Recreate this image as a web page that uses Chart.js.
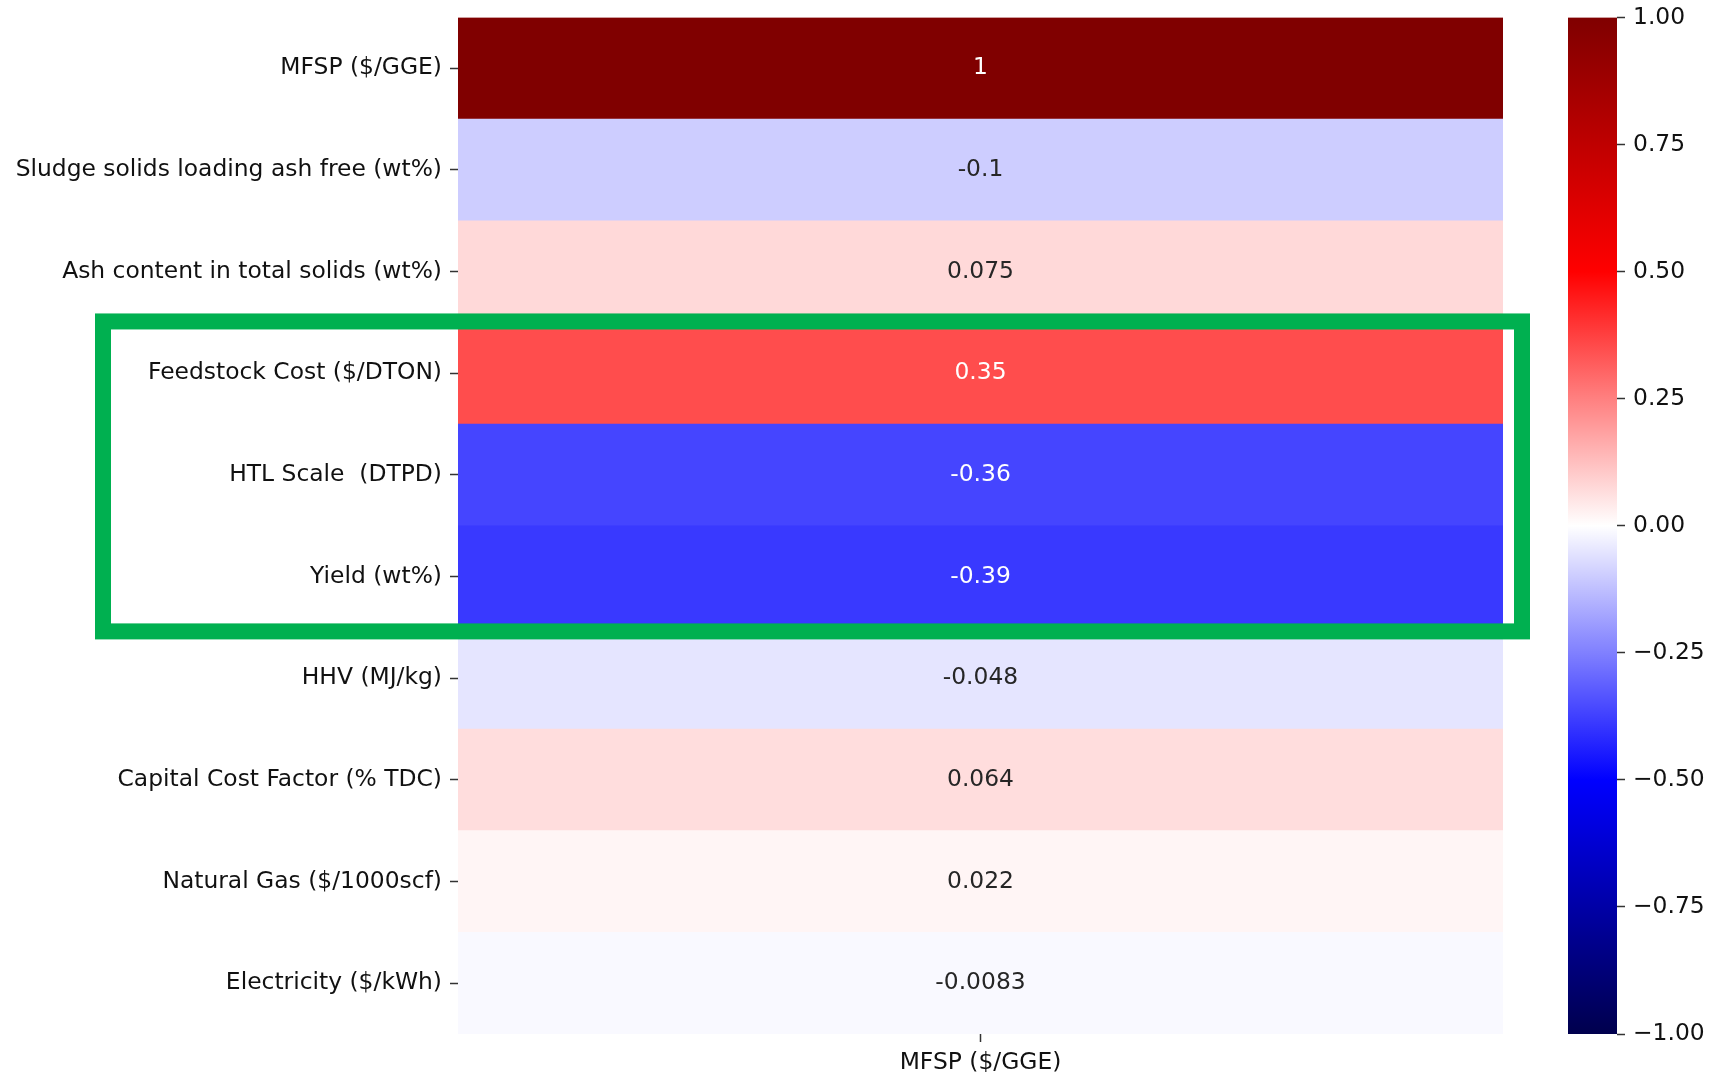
<!DOCTYPE html>
<html>
<head>
<meta charset="utf-8">
<script src="https://cdn.jsdelivr.net/npm/chart.js@4"></script>
<style>
  html, body { margin: 0; padding: 0; background: #ffffff; }
  #wrap { position: relative; width: 1711px; height: 1072px; }
  #wrap canvas { position: absolute; left: 0; top: 0; }
</style>
</head>
<body>
<div id="wrap">
  <canvas id="heat" width="1711" height="1072"></canvas>
  <canvas id="cbar" width="1711" height="1072"></canvas>
</div>
<script>
// Correlation of each input parameter with MFSP
const rowLabels = [
  'MFSP ($/GGE)',
  'Sludge solids loading ash free (wt%)',
  'Ash content in total solids (wt%)',
  'Feedstock Cost ($/DTON)',
  'HTL Scale  (DTPD)',
  'Yield (wt%)',
  'HHV (MJ/kg)',
  'Capital Cost Factor (% TDC)',
  'Natural Gas ($/1000scf)',
  'Electricity ($/kWh)'
];
const colLabels = ['MFSP ($/GGE)'];
const corrValues = [1, -0.1, 0.075, 0.35, -0.36, -0.39, -0.048, 0.064, 0.022, -0.0083];
const cbarTicks = [-1, -0.75, -0.5, -0.25, 0, 0.25, 0.5, 0.75, 1];
const highlightRows = ['Feedstock Cost ($/DTON)', 'Yield (wt%)'];

const FONT = "'DejaVu Sans', sans-serif";
const FONT_SIZE = 23.4;
const TEXT_DARK = '#262626';
const LABEL_COLOR = '#111111';

// diverging "seismic" colour map, sampled through a 256-entry table
const seismicStops = [
  [0.00, [0.0, 0.0, 0.3]],
  [0.25, [0.0, 0.0, 1.0]],
  [0.50, [1.0, 1.0, 1.0]],
  [0.75, [1.0, 0.0, 0.0]],
  [1.00, [0.5, 0.0, 0.0]]
];
function seismicRGB(t) {
  for (let i = 1; i < seismicStops.length; i++) {
    const [p1, c1] = seismicStops[i];
    const [p0, c0] = seismicStops[i - 1];
    if (t <= p1) {
      const s = (t - p0) / (p1 - p0);
      return c0.map((c, k) => c + (c1[k] - c) * s);
    }
  }
  return seismicStops[seismicStops.length - 1][1];
}
function colorFor(v, vmin = -1, vmax = 1) {
  const t = (v - vmin) / (vmax - vmin);
  const idx = Math.min(255, Math.max(0, Math.floor(t * 256)));
  return seismicRGB(idx / 255);
}
function rgbStr(c) {
  return 'rgb(' + c.map(x => Math.round(x * 255)).join(',') + ')';
}
function luminance(c) {
  const lin = c.map(x => (x <= 0.03928 ? x / 12.92 : Math.pow((x + 0.055) / 1.055, 2.4)));
  return 0.2126 * lin[0] + 0.7152 * lin[1] + 0.0722 * lin[2];
}
function fmt2g(v) {
  return String(Number(v.toPrecision(2)));
}
// keep the plot box exactly where the layout padding puts it
function noLabelPadding(axis) {
  axis.paddingTop = 0;
  axis.paddingBottom = 0;
  axis.paddingLeft = 0;
  axis.paddingRight = 0;
}

// cell annotations
const cellText = {
  id: 'cellText',
  afterDatasetsDraw(chart) {
    const ctx = chart.ctx;
    const meta = chart.getDatasetMeta(0);
    ctx.save();
    ctx.font = FONT_SIZE + 'px ' + FONT;
    ctx.textAlign = 'center';
    ctx.textBaseline = 'middle';
    meta.data.forEach((bar, i) => {
      const v = corrValues[i];
      const c = colorFor(v);
      ctx.fillStyle = luminance(c) < 0.408 ? '#ffffff' : TEXT_DARK;
      const p = bar.getProps(['x', 'base', 'y']);
      ctx.fillText(fmt2g(v), (p.x + p.base) / 2, p.y);
    });
    ctx.restore();
  }
};

// green outline around a block of rows
const highlightBox = {
  id: 'highlightBox',
  afterDraw(chart, args, opts) {
    const ys = chart.scales.y;
    const i0 = rowLabels.indexOf(opts.from);
    const i1 = rowLabels.indexOf(opts.to);
    const half = (ys.getPixelForValue(1) - ys.getPixelForValue(0)) / 2;
    const top = ys.getPixelForValue(i0) - half + opts.shiftTop;
    const bottom = ys.getPixelForValue(i1) + half + opts.shiftBottom;
    const left = opts.left;
    const right = chart.chartArea.right + opts.overhangRight;
    const ctx = chart.ctx;
    ctx.save();
    ctx.strokeStyle = opts.color;
    ctx.lineWidth = opts.lineWidth;
    ctx.lineJoin = 'miter';
    ctx.strokeRect(left, top, right - left, bottom - top);
    ctx.restore();
  }
};

const axisGrid = { offset: false, drawOnChartArea: false, drawTicks: true, tickLength: 8, color: '#333333', tickWidth: 1.5 };
const BOTTOM_BAND = 38;

const heatChart = new Chart(document.getElementById('heat'), {
  type: 'bar',
  data: {
    labels: rowLabels,
    datasets: [{
      data: corrValues.map((v, i) => ({ x: [0, 1], y: rowLabels[i] })),
      backgroundColor: corrValues.map(v => rgbStr(colorFor(v))),
      borderWidth: 0,
      borderSkipped: false,
      categoryPercentage: 1.0,
      barPercentage: 1.0
    }]
  },
  options: {
    indexAxis: 'y',
    responsive: false,
    animation: false,
    devicePixelRatio: 1,
    layout: { padding: { left: 0, top: 17.5, right: 208, bottom: 0 } },
    plugins: {
      legend: { display: false },
      tooltip: { enabled: false },
      highlightBox: {
        from: highlightRows[0],
        to: highlightRows[1],
        left: 103,
        overhangRight: 19,
        shiftTop: -1,
        shiftBottom: 4,
        lineWidth: 16,
        color: '#00b050'
      }
    },
    scales: {
      x: {
        type: 'linear',
        min: 0,
        max: 1,
        afterBuildTicks(axis) { axis.ticks = [{ value: 0.5 }]; },
        afterFit(axis) { axis.height = BOTTOM_BAND; noLabelPadding(axis); },
        ticks: {
          callback: () => colLabels[0],
          font: { family: FONT, size: FONT_SIZE },
          color: LABEL_COLOR,
          padding: 7,
          maxRotation: 0
        },
        grid: axisGrid,
        border: { display: false }
      },
      y: {
        type: 'category',
        afterFit(axis) { axis.width = 458; noLabelPadding(axis); },
        ticks: {
          font: { family: FONT, size: FONT_SIZE },
          color: LABEL_COLOR,
          padding: 8,
          autoSkip: false
        },
        grid: axisGrid,
        border: { display: false }
      }
    }
  },
  plugins: [cellText, highlightBox]
});

// colour bar drawn as one floating bar over the full value range
const cbarChart = new Chart(document.getElementById('cbar'), {
  type: 'bar',
  data: {
    labels: [''],
    datasets: [{
      data: [[cbarTicks[0], cbarTicks[cbarTicks.length - 1]]],
      backgroundColor(ctx) {
        const chart = ctx.chart;
        const area = chart.chartArea;
        if (!area) return 'rgba(0,0,0,0)';
        const g = chart.ctx.createLinearGradient(0, area.bottom, 0, area.top);
        for (let k = 0; k <= 64; k++) {
          const t = k / 64;
          g.addColorStop(t, rgbStr(seismicRGB(t)));
        }
        return g;
      },
      borderWidth: 0,
      categoryPercentage: 1.0,
      barPercentage: 1.0
    }]
  },
  options: {
    responsive: false,
    animation: false,
    devicePixelRatio: 1,
    layout: { padding: { left: 1568, top: 17.5, right: 0, bottom: BOTTOM_BAND } },
    plugins: { legend: { display: false }, tooltip: { enabled: false } },
    scales: {
      x: { display: false },
      y: {
        position: 'right',
        min: cbarTicks[0],
        max: cbarTicks[cbarTicks.length - 1],
        afterBuildTicks(axis) { axis.ticks = cbarTicks.map(v => ({ value: v })); },
        afterFit(axis) { axis.width = 1711 - 1617; noLabelPadding(axis); },
        ticks: {
          callback: v => Number(v).toFixed(2).replace('-', '\u2212'),
          font: { family: FONT, size: FONT_SIZE },
          color: LABEL_COLOR,
          padding: 8
        },
        grid: axisGrid,
        border: { display: false }
      }
    }
  }
});
</script>
</body>
</html>
